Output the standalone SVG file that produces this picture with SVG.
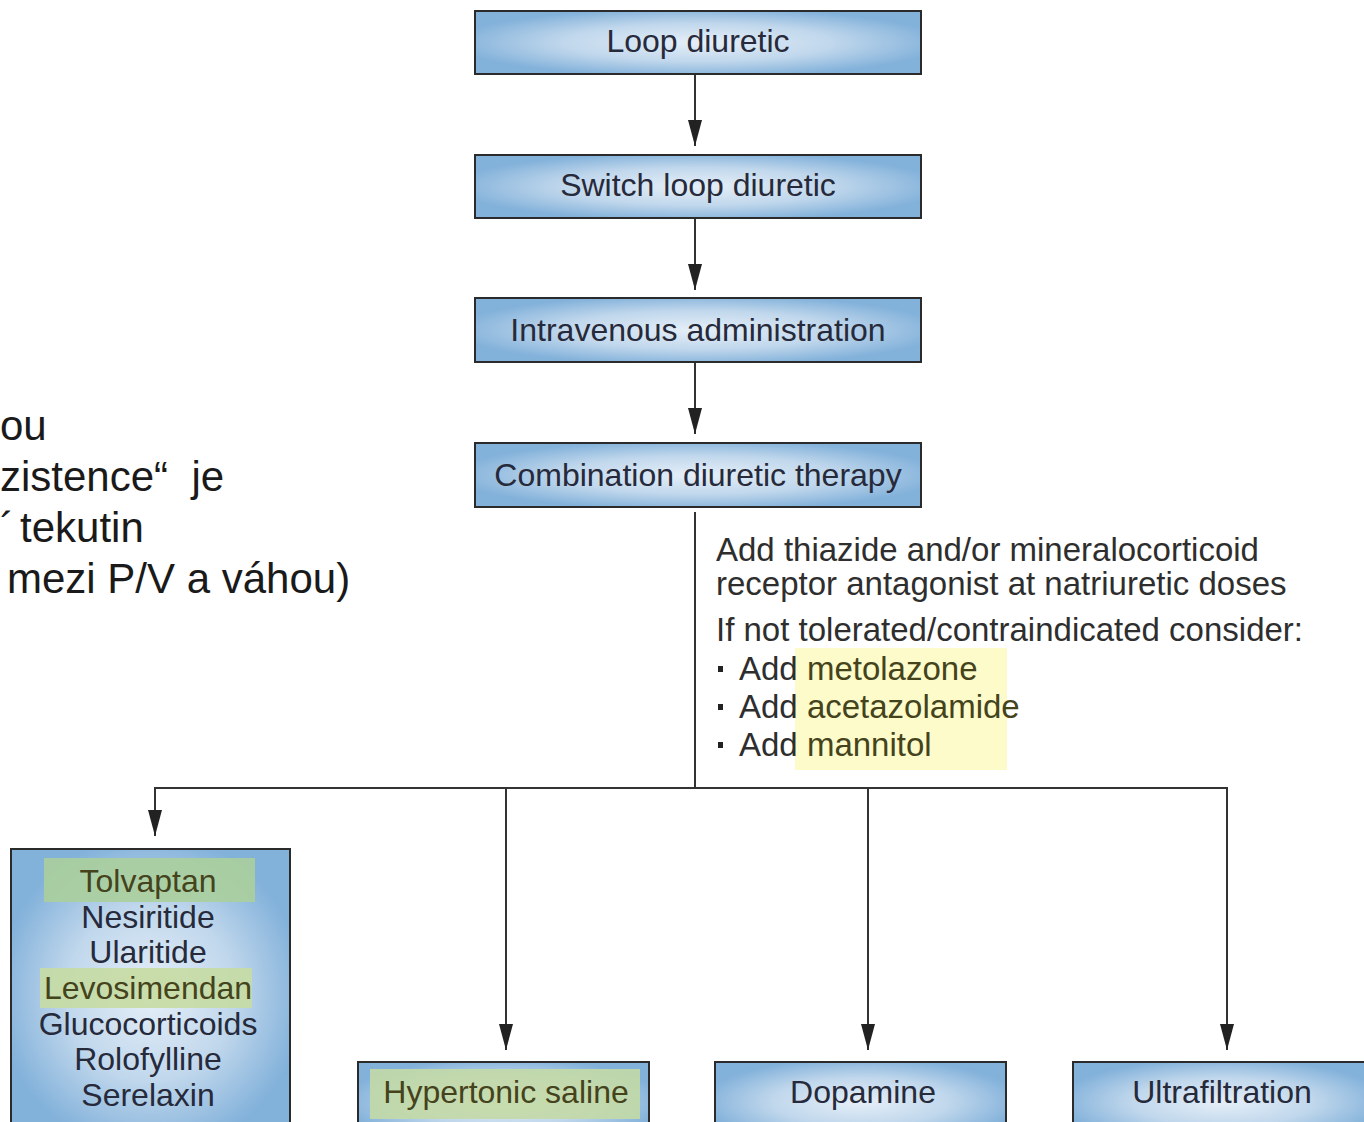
<svg xmlns="http://www.w3.org/2000/svg" width="1364" height="1122" viewBox="0 0 1364 1122">
<style>
.box{stroke:#2b2b2b;stroke-width:2;fill:url(#boxg)}
.bt{font-family:"Liberation Sans",Arial,sans-serif;font-size:32px;fill:#262a3a;text-anchor:middle}
.hl{fill:#44431c}
.side{font-family:"Liberation Sans",Arial,sans-serif;font-size:42px;fill:#1a1a1a}
.note{font-family:"Liberation Sans",Arial,sans-serif;font-size:33px;fill:#2e2e2e}
.con{stroke:#333;stroke-width:2;fill:none}
</style>
<defs>
<radialGradient id="boxg" cx="50%" cy="50%" r="55%">
<stop offset="0" stop-color="#e6eff8"/>
<stop offset="0.55" stop-color="#c0d7ec"/>
<stop offset="1" stop-color="#82b1da"/>
</radialGradient>
<marker id="arr" viewBox="0 0 26 14" refX="26" refY="7" markerWidth="26" markerHeight="14" markerUnits="userSpaceOnUse" orient="auto">
<path d="M0,0 L26,7 L0,14 z" fill="#222"/>
</marker>
</defs>
<rect width="1364" height="1122" fill="#fff"/>

<g id="side-text" class="side">
<text x="0" y="440">ou</text>
<text x="0" y="491" xml:space="preserve">zistence“  je</text>
<text x="0" y="542">´</text>
<text x="20" y="542">tekutin</text>
<text x="7" y="593">mezi P/V a váhou)</text>
</g>

<g id="connectors">
<line class="con" x1="695" y1="74" x2="695" y2="146" marker-end="url(#arr)"/>
<line class="con" x1="695" y1="218" x2="695" y2="290" marker-end="url(#arr)"/>
<line class="con" x1="695" y1="362" x2="695" y2="434" marker-end="url(#arr)"/>
<line class="con" x1="695" y1="512" x2="695" y2="788"/>
<line class="con" x1="154" y1="788" x2="1228" y2="788"/>
<line class="con" x1="155" y1="788" x2="155" y2="836" marker-end="url(#arr)"/>
<line class="con" x1="506" y1="788" x2="506" y2="1050" marker-end="url(#arr)"/>
<line class="con" x1="868" y1="788" x2="868" y2="1050" marker-end="url(#arr)"/>
<line class="con" x1="1227" y1="788" x2="1227" y2="1050" marker-end="url(#arr)"/>
</g>

<g id="n-loop">
<rect class="box" x="475" y="11" width="446" height="63"/>
<text class="bt" x="698" y="52">Loop diuretic</text>
</g>
<g id="n-switch">
<rect class="box" x="475" y="155" width="446" height="63"/>
<text class="bt" x="698" y="196">Switch loop diuretic</text>
</g>
<g id="n-iv">
<rect class="box" x="475" y="298" width="446" height="64"/>
<text class="bt" x="698" y="341">Intravenous administration</text>
</g>
<g id="n-combo">
<rect class="box" x="475" y="443" width="446" height="64"/>
<text class="bt" x="698" y="486">Combination diuretic therapy</text>
</g>

<g id="combo-note" class="note">
<rect x="795" y="648" width="212" height="122" fill="#fdfbca"/>
<text x="716" y="561">Add thiazide and/or mineralocorticoid</text>
<text x="716" y="595">receptor antagonist at natriuretic doses</text>
<text x="716" y="641">If not tolerated/contraindicated consider:</text>
<rect x="718" y="666" width="5" height="6" fill="#222"/>
<text x="739" y="680">Add <tspan class="hl">metolazone</tspan></text>
<rect x="718" y="704" width="5" height="6" fill="#222"/>
<text x="739" y="718">Add <tspan class="hl">acetazolamide</tspan></text>
<rect x="718" y="742" width="5" height="6" fill="#222"/>
<text x="739" y="756">Add <tspan class="hl">mannitol</tspan></text>
</g>

<g id="n-agents">
<rect class="box" x="11" y="849" width="279" height="290"/>
<rect x="44" y="858" width="211" height="44" fill="#abcf9c" opacity="0.9"/>
<rect x="40" y="968" width="212" height="40" fill="#c6dca3" opacity="0.9"/>
<text class="bt" x="148" y="892"><tspan class="hl">Tolvaptan</tspan></text>
<text class="bt" x="148" y="928">Nesiritide</text>
<text class="bt" x="148" y="963">Ularitide</text>
<text class="bt" x="148" y="999"><tspan class="hl">Levosimendan</tspan></text>
<text class="bt" x="148" y="1035">Glucocorticoids</text>
<text class="bt" x="148" y="1070">Rolofylline</text>
<text class="bt" x="148" y="1106">Serelaxin</text>
</g>

<g id="n-saline">
<rect class="box" x="358" y="1062" width="291" height="80"/>
<rect x="370" y="1069" width="270" height="50" fill="#c3d9a6" opacity="0.9"/>
<text class="bt" x="506" y="1103"><tspan class="hl">Hypertonic saline</tspan></text>
</g>
<g id="n-dopamine">
<rect class="box" x="715" y="1062" width="291" height="80"/>
<text class="bt" x="863" y="1103">Dopamine</text>
</g>
<g id="n-uf">
<rect class="box" x="1073" y="1062" width="300" height="80"/>
<text class="bt" x="1222" y="1103">Ultrafiltration</text>
</g>
</svg>
